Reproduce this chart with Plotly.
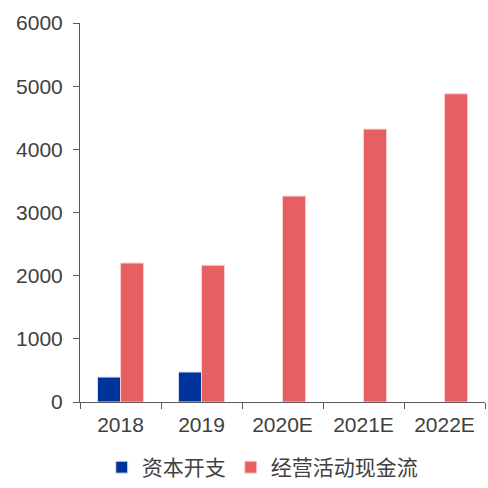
import plotly.graph_objects as go

categories = ["2018", "2019", "2020E", "2021E", "2022E"]
capex = [395, 475, None, None, None]
op_cf = [2200, 2165, 3260, 4320, 4880]
series_names = ["资本开支", "经营活动现金流"]

fig = go.Figure()
fig.add_trace(go.Bar(x=categories, y=capex, name=series_names[0],
                     marker=dict(color="#003399", line=dict(color="#dde4f5", width=1))))
fig.add_trace(go.Bar(x=categories, y=op_cf, name=series_names[1],
                     marker=dict(color="#E66062", line=dict(color="#f8d0d0", width=1))))

font_family = "Liberation Sans, Arial, Noto Sans CJK SC"
fig.update_layout(
    width=488, height=488,
    margin=dict(l=80, r=3, t=23, b=86),
    paper_bgcolor="white", plot_bgcolor="white",
    barmode="group", bargap=0.43, bargroupgap=0,
    font=dict(family=font_family, size=21, color="#404040"),
    showlegend=True,
    legend=dict(orientation="h", x=0.45, xanchor="center", yref="container",
                y=0.0, yanchor="bottom",
                font=dict(size=21, family="Noto Sans CJK SC, Liberation Sans", color="#404040"),
                itemwidth=30, traceorder="normal", tracegroupgap=0),
    xaxis=dict(showline=True, linecolor="#595959", linewidth=1,
               ticks="outside", ticklen=6, tickcolor="#595959",
               tickson="boundaries", showgrid=False, automargin=False,
               ticklabelstandoff=4,
               tickfont=dict(size=21, color="#404040")),
    yaxis=dict(range=[0, 6000], dtick=1000, showline=True, linecolor="#595959",
               linewidth=1, ticks="outside", ticklen=6, tickcolor="#595959",
               showgrid=False, zeroline=False, automargin=False,
               ticklabelstandoff=6,
               tickfont=dict(size=21, color="#404040")),
)
fig.write_html("out.html")
